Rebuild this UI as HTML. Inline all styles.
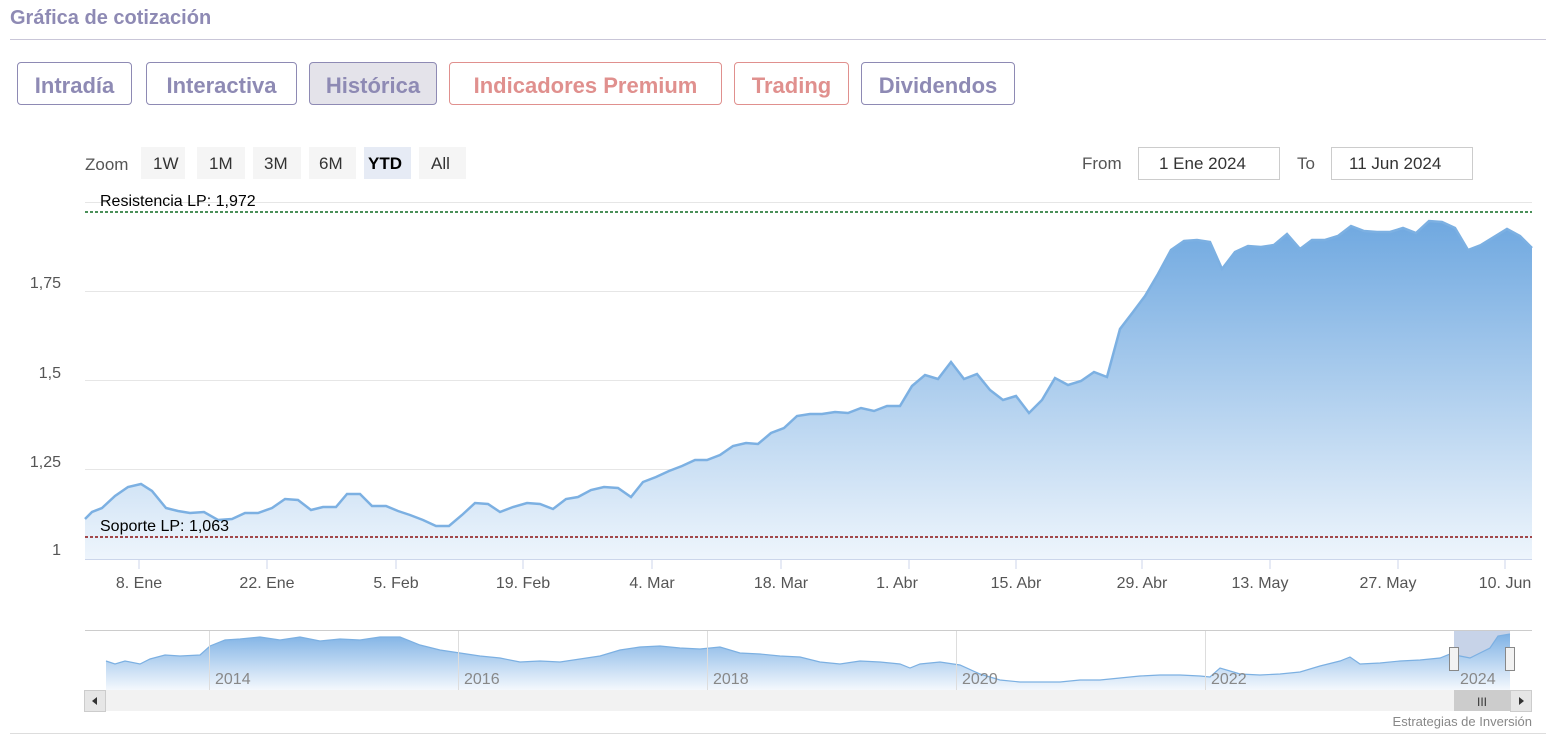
<!DOCTYPE html><html><head><meta charset="utf-8"><style>
body{margin:0;width:1548px;height:742px;background:#fff;font-family:"Liberation Sans",sans-serif;position:relative;overflow:hidden}
.t{position:absolute;left:10px;top:7px;font-size:20px;font-weight:bold;color:#8e8ab4}
.hl{position:absolute;left:10px;top:39px;width:1536px;height:1px;background:#c9c6d8}
.b{position:absolute;top:62px;height:43px;border:1px solid #8e8ab4;border-radius:4px;box-sizing:border-box;color:#8e8ab4;font-weight:bold;font-size:22px;line-height:45px;text-align:center}
.p{border-color:#e0908e;color:#e0908e}
</style></head><body>
<div class="t">Gráfica de cotización</div><div class="hl"></div>
<div class="b" style="left:17px;width:115px">Intradía</div>
<div class="b" style="left:146px;width:151px">Interactiva</div>
<div class="b" style="left:309px;width:128px;background:#e4e3ea">Histórica</div>
<div class="b p" style="left:449px;width:273px">Indicadores Premium</div>
<div class="b p" style="left:734px;width:115px">Trading</div>
<div class="b" style="left:861px;width:154px">Dividendos</div>
<svg width="1548" height="742" style="position:absolute;left:0;top:0" font-family="Liberation Sans, DejaVu Sans, sans-serif">
<defs><linearGradient id="g" x1="0" y1="0" x2="0" y2="1"><stop offset="0" stop-color="#6fa8e0"/><stop offset="1" stop-color="#eef5fc"/></linearGradient>
<linearGradient id="g2" x1="0" y1="0" x2="0" y2="1"><stop offset="0" stop-color="#7fb2e5"/><stop offset="1" stop-color="#f4f8fd"/></linearGradient></defs>
<g font-size="17" fill="#333">
<text x="85" y="170" fill="#555">Zoom</text>
<rect x="141" y="147" width="44" height="32" fill="#f5f5f5"/><text x="153" y="169">1W</text>
<rect x="197" y="147" width="48" height="32" fill="#f5f5f5"/><text x="209" y="169">1M</text>
<rect x="253" y="147" width="48" height="32" fill="#f5f5f5"/><text x="264" y="169">3M</text>
<rect x="309" y="147" width="47" height="32" fill="#f5f5f5"/><text x="319" y="169">6M</text>
<rect x="364" y="147" width="47" height="32" fill="#e6ebf5"/><text x="368" y="169" font-weight="bold" fill="#000">YTD</text>
<rect x="419" y="147" width="47" height="32" fill="#f5f5f5"/><text x="431" y="169">All</text>
<text x="1082" y="169" fill="#555">From</text>
<rect x="1138.5" y="147.5" width="141" height="32" fill="#fff" stroke="#ccc"/><text x="1159" y="169">1 Ene 2024</text>
<text x="1297" y="169" fill="#555">To</text>
<rect x="1331.5" y="147.5" width="141" height="32" fill="#fff" stroke="#ccc"/><text x="1349" y="169">11 Jun 2024</text>
</g>
<g stroke="#e6e6e6"><line x1="85" y1="202.5" x2="1532" y2="202.5"/><line x1="85" y1="291.5" x2="1532" y2="291.5"/><line x1="85" y1="380.5" x2="1532" y2="380.5"/><line x1="85" y1="469.5" x2="1532" y2="469.5"/></g>
<g font-size="16" fill="#555" text-anchor="end"><text x="61" y="288">1,75</text><text x="61" y="378">1,5</text><text x="61" y="467">1,25</text><text x="61" y="555">1</text></g>
<polygon fill="url(#g)" points="85,559 85,519 92,512 102,508 115,496 128,487 141,484 152,491 166,508 178,511 190,513 204,512 218,520 232,519 245,513 258,513 272,508 285,499 298,500 311,510 323,507 336,507 347,494 360,494 372,506 386,506 398,511 410,515 423,520 436,526 449,526 462,515 475,503 488,504 500,512 513,507 527,503 540,504 553,509 566,499 578,497 591,490 604,487 618,488 631,497 643,482 656,477 669,471 682,466 695,460 707,460 720,455 733,446 746,443 758,444 771,433 784,428 797,416 810,414 822,414 835,412 848,413 861,408 874,411 887,406 900,406 912,386 925,375 938,379 951,362 964,379 977,374 990,390 1003,400 1016,396 1029,413 1042,400 1055,378 1068,385 1081,381 1094,372 1107,377 1120,329 1133,312 1145,296 1158,274 1171,250 1184,241 1197,240 1210,242 1222,269 1235,252 1248,246 1261,247 1274,245 1287,234 1300,249 1312,240 1325,240 1338,236 1351,226 1364,231 1377,232 1390,232 1403,228 1416,233 1429,221 1442,222 1455,228 1468,250 1481,245 1494,237 1507,229 1520,236 1532,248 1532,559"/>
<polyline fill="none" stroke="#7cb0e2" stroke-width="2.5" points="85,519 92,512 102,508 115,496 128,487 141,484 152,491 166,508 178,511 190,513 204,512 218,520 232,519 245,513 258,513 272,508 285,499 298,500 311,510 323,507 336,507 347,494 360,494 372,506 386,506 398,511 410,515 423,520 436,526 449,526 462,515 475,503 488,504 500,512 513,507 527,503 540,504 553,509 566,499 578,497 591,490 604,487 618,488 631,497 643,482 656,477 669,471 682,466 695,460 707,460 720,455 733,446 746,443 758,444 771,433 784,428 797,416 810,414 822,414 835,412 848,413 861,408 874,411 887,406 900,406 912,386 925,375 938,379 951,362 964,379 977,374 990,390 1003,400 1016,396 1029,413 1042,400 1055,378 1068,385 1081,381 1094,372 1107,377 1120,329 1133,312 1145,296 1158,274 1171,250 1184,241 1197,240 1210,242 1222,269 1235,252 1248,246 1261,247 1274,245 1287,234 1300,249 1312,240 1325,240 1338,236 1351,226 1364,231 1377,232 1390,232 1403,228 1416,233 1429,221 1442,222 1455,228 1468,250 1481,245 1494,237 1507,229 1520,236 1532,248"/>
<line x1="85" y1="212" x2="1532" y2="212" stroke="#0f6b22" stroke-dasharray="3,2" stroke-width="1.5"/>
<line x1="85" y1="537" x2="1532" y2="537" stroke="#8c0f0f" stroke-dasharray="3,2" stroke-width="1.5"/>
<g font-size="16" fill="#000"><text x="100" y="206">Resistencia LP: 1,972</text><text x="100" y="531">Soporte LP: 1,063</text></g>
<line x1="85" y1="559.5" x2="1532" y2="559.5" stroke="#ccd6eb"/>
<g stroke="#ccd6eb"><line x1="139" y1="560" x2="139" y2="569"/><line x1="267" y1="560" x2="267" y2="569"/><line x1="396" y1="560" x2="396" y2="569"/><line x1="523" y1="560" x2="523" y2="569"/><line x1="652" y1="560" x2="652" y2="569"/><line x1="781" y1="560" x2="781" y2="569"/><line x1="909" y1="560" x2="909" y2="569"/><line x1="1016" y1="560" x2="1016" y2="569"/><line x1="1142" y1="560" x2="1142" y2="569"/><line x1="1270" y1="560" x2="1270" y2="569"/><line x1="1398" y1="560" x2="1398" y2="569"/><line x1="1505" y1="560" x2="1505" y2="569"/></g>
<g font-size="16" fill="#555" text-anchor="middle"><text x="139" y="588">8. Ene</text><text x="267" y="588">22. Ene</text><text x="396" y="588">5. Feb</text><text x="523" y="588">19. Feb</text><text x="652" y="588">4. Mar</text><text x="781" y="588">18. Mar</text><text x="897" y="588">1. Abr</text><text x="1016" y="588">15. Abr</text><text x="1142" y="588">29. Abr</text><text x="1260" y="588">13. May</text><text x="1388" y="588">27. May</text><text x="1505" y="588">10. Jun</text></g>
<line x1="85" y1="630.5" x2="1532" y2="630.5" stroke="#ccc"/>
<rect x="1454" y="631" width="56" height="59" fill="#c7d3e8"/>
<polygon fill="url(#g2)" points="106,690 106,661 115,664 125,661 140,664 150,659 165,655 180,656 200,655 210,646 225,640 240,639 260,637 280,640 300,637 320,641 340,639 360,640 380,637 400,637 420,645 440,650 460,653 480,656 500,658 520,662 540,661 560,662 580,659 600,656 620,650 640,647 660,646 680,648 700,649 720,647 740,653 760,654 780,656 800,657 820,662 840,664 860,661 880,662 900,664 910,668 920,664 940,662 960,665 980,674 1000,680 1020,682 1040,682 1060,682 1080,680 1100,680 1120,678 1140,676 1160,675 1180,675 1200,676 1210,677 1220,668 1230,671 1240,674 1260,675 1280,674 1300,672 1320,666 1340,661 1350,657 1360,664 1380,663 1400,661 1420,660 1440,658 1450,654 1460,656 1470,658 1480,653 1490,648 1498,636 1510,634 1510,690"/>
<polyline fill="none" stroke="#7cb0e2" stroke-width="1.2" points="106,661 115,664 125,661 140,664 150,659 165,655 180,656 200,655 210,646 225,640 240,639 260,637 280,640 300,637 320,641 340,639 360,640 380,637 400,637 420,645 440,650 460,653 480,656 500,658 520,662 540,661 560,662 580,659 600,656 620,650 640,647 660,646 680,648 700,649 720,647 740,653 760,654 780,656 800,657 820,662 840,664 860,661 880,662 900,664 910,668 920,664 940,662 960,665 980,674 1000,680 1020,682 1040,682 1060,682 1080,680 1100,680 1120,678 1140,676 1160,675 1180,675 1200,676 1210,677 1220,668 1230,671 1240,674 1260,675 1280,674 1300,672 1320,666 1340,661 1350,657 1360,664 1380,663 1400,661 1420,660 1440,658 1450,654 1460,656 1470,658 1480,653 1490,648 1498,636 1510,634"/>
<g stroke="#ddd"><line x1="209.5" y1="631" x2="209.5" y2="690"/><line x1="458.5" y1="631" x2="458.5" y2="690"/><line x1="707.5" y1="631" x2="707.5" y2="690"/><line x1="956.5" y1="631" x2="956.5" y2="690"/><line x1="1205.5" y1="631" x2="1205.5" y2="690"/></g>
<g font-size="16" fill="#888"><text x="215" y="684">2014</text><text x="464" y="684">2016</text><text x="713" y="684">2018</text><text x="962" y="684">2020</text><text x="1211" y="684">2022</text><text x="1460" y="684">2024</text></g>
<rect x="1449.5" y="647.5" width="9" height="23" fill="#f2f2f2" stroke="#888"/><rect x="1505.5" y="647.5" width="9" height="23" fill="#f2f2f2" stroke="#888"/>
<rect x="84" y="690" width="1448" height="21" fill="#f2f2f2"/>
<rect x="84.5" y="690.5" width="21" height="21" fill="#e6e6e6" stroke="#ccc"/><polygon points="97,697 97,705 92,701" fill="#333"/>
<rect x="1454" y="690" width="56" height="21" fill="#ccc"/><text x="1482" y="706" font-size="12" fill="#333" text-anchor="middle">III</text>
<rect x="1510.5" y="690.5" width="21" height="21" fill="#e6e6e6" stroke="#ccc"/><polygon points="1519,697 1519,705 1524,701" fill="#333"/>
<text x="1532" y="726" font-size="13" fill="#888" text-anchor="end">Estrategias de Inversión</text>
<line x1="10" y1="733.5" x2="1546" y2="733.5" stroke="#ddd"/>
</svg></body></html>
